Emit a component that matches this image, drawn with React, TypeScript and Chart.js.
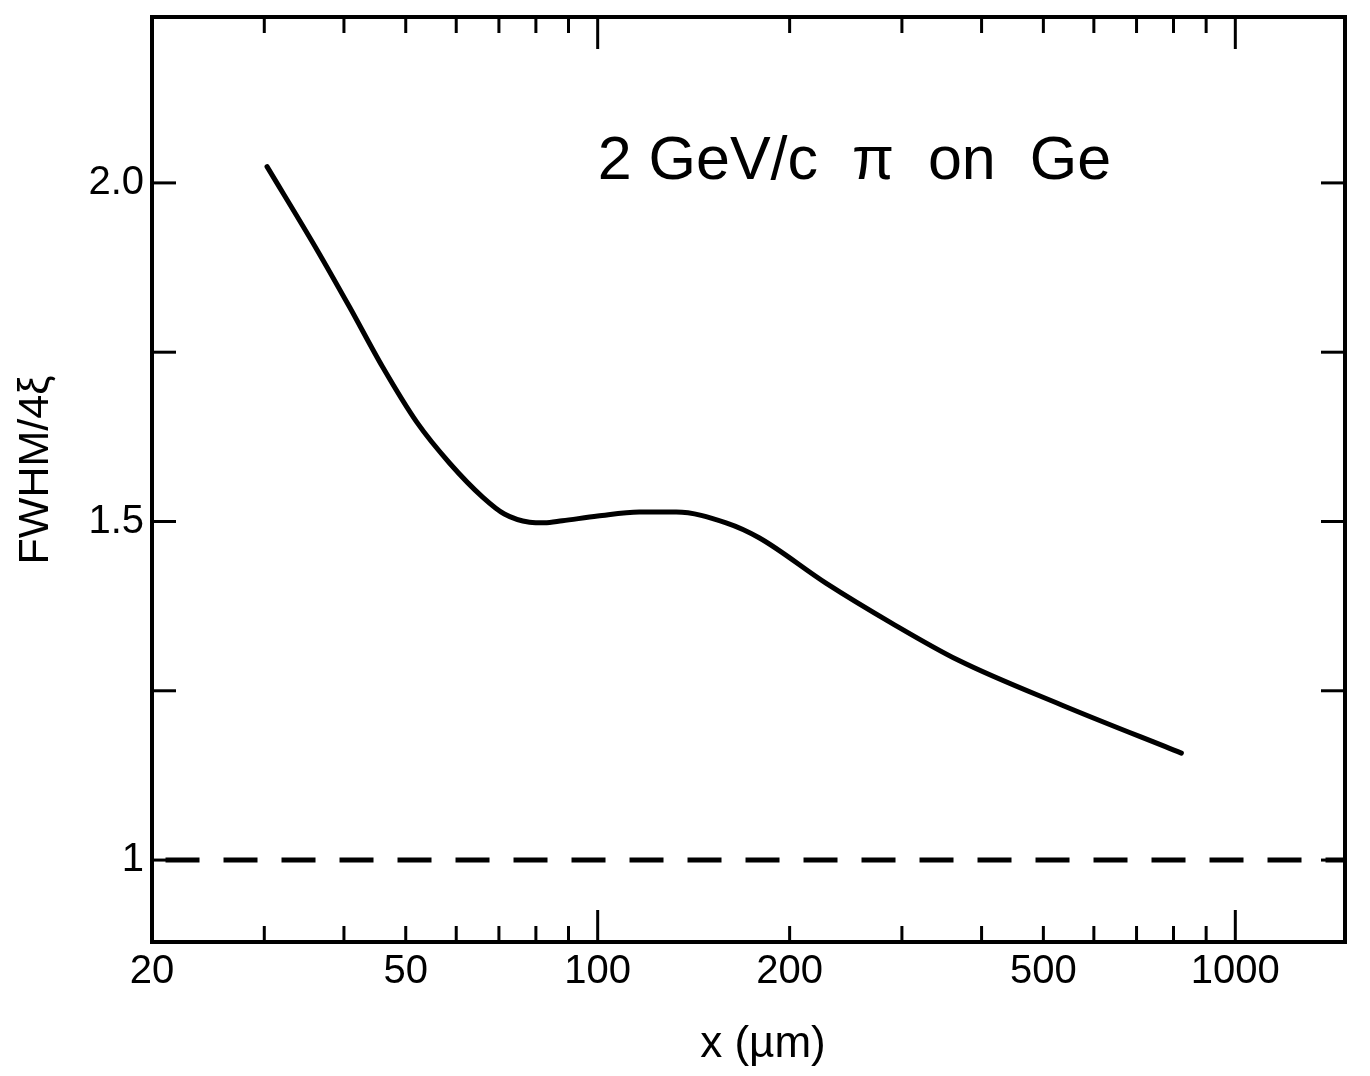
import React, { useEffect, useRef } from "react";
import { Chart, registerables } from "chart.js";

Chart.register(...registerables);

// Curve: FWHM/4ξ versus absorber thickness x (µm), 2 GeV/c π on Ge
const curveX = [30.3, 36.3, 40.8, 46.0, 52.0, 58.6, 66.0, 71.4, 78.2, 82.5, 88.0, 100, 116.2, 132.8, 159.0, 179.1, 228, 289, 368, 534, 823];
const curveY = [2.024, 1.901, 1.817, 1.728, 1.647, 1.586, 1.536, 1.511, 1.499, 1.498, 1.501, 1.508, 1.514, 1.514, 1.498, 1.476, 1.409, 1.35, 1.295, 1.229, 1.158];

// Reference (dashed) line at FWHM/4ξ = 1
const refX = [21, 1486];
const refY = [1, 1];

// Axis ranges and ticks
const xMin = 20;
const xMax = 1486;
const yMin = 0.879;
const yMax = 2.245;
const xTickLabels = [20, 50, 100, 200, 500, 1000];
const xMinorTicks = [30, 40, 50, 60, 70, 80, 90, 200, 300, 400, 500, 600, 700, 800, 900];
const xMajorTicks = [100, 1000];
const yTickLabels = [1, 1.5, 2];
const yTickMarks = [1, 1.25, 1.5, 1.75, 2];

const titleText = "2 GeV/c  π  on  Ge";
const xTitle = "x (µm)";
const yTitle = "FWHM/4ξ";

const TICK_FONT = "'Liberation Sans Narrow', 'Liberation Sans', Arial, sans-serif";
const TEXT_FONT = "'Liberation Sans', Arial, sans-serif";

const framePlugin = {
  id: "frameTicks",
  afterDraw(chart: any) {
    const { ctx, chartArea: a, scales } = chart;
    const xs = scales.x;
    const ys = scales.y;
    ctx.save();
    ctx.strokeStyle = "#000";
    ctx.fillStyle = "#000";
    ctx.lineCap = "butt";
    ctx.lineWidth = 4;
    ctx.strokeRect(a.left, a.top, a.right - a.left, a.bottom - a.top);
    const line = (x1: number, y1: number, x2: number, y2: number) => {
      ctx.beginPath();
      ctx.moveTo(x1, y1);
      ctx.lineTo(x2, y2);
      ctx.stroke();
    };
    ctx.lineWidth = 3;
    for (const v of xMinorTicks) {
      const px = xs.getPixelForValue(v);
      line(px, a.bottom, px, a.bottom - 16);
      line(px, a.top, px, a.top + 16);
    }
    for (const v of xMajorTicks) {
      const px = xs.getPixelForValue(v);
      line(px, a.bottom, px, a.bottom - 32);
      line(px, a.top, px, a.top + 32);
    }
    for (const v of yTickMarks) {
      const py = ys.getPixelForValue(v);
      line(a.left, py, a.left + 24, py);
      line(a.right, py, a.right - 24, py);
    }
    // In-plot title
    ctx.font = `61px ${TEXT_FONT}`;
    ctx.textAlign = "left";
    ctx.textBaseline = "middle";
    ctx.fillText(titleText, xs.getPixelForValue(100), ys.getPixelForValue(2.03));
    // X axis title
    ctx.font = `44px ${TEXT_FONT}`;
    ctx.textAlign = "center";
    ctx.textBaseline = "middle";
    ctx.fillText(xTitle, 763, 1045);
    // Y axis title
    ctx.translate(36, 470);
    ctx.rotate(-Math.PI / 2);
    ctx.font = `43px ${TEXT_FONT}`;
    ctx.fillText(yTitle, 0, 0);
    ctx.restore();
  },
};

export default function App() {
  const ref = useRef<HTMLCanvasElement | null>(null);
  useEffect(() => {
    document.body.style.margin = "0";
    const canvas = ref.current;
    if (!canvas) return;
    Chart.defaults.color = "#000";
    const chart = new Chart(canvas, {
      type: "line",
      data: {
        datasets: [
          {
            data: curveX.map((x, i) => ({ x, y: curveY[i] })),
            borderColor: "#000",
            borderWidth: 5,
            pointRadius: 0,
            cubicInterpolationMode: "monotone",
            fill: false,
            borderCapStyle: "round",
          },
          {
            data: refX.map((x, i) => ({ x, y: refY[i] })),
            borderColor: "#000",
            borderWidth: 5,
            pointRadius: 0,
            borderDash: [34, 24],
            fill: false,
          },
        ],
      },
      options: {
        animation: false,
        responsive: false,
        events: [],
        layout: { padding: { left: 0, right: 25, top: 17, bottom: 0 } },
        plugins: { legend: { display: false }, tooltip: { enabled: false }, title: { display: false } },
        scales: {
          x: {
            type: "logarithmic",
            min: xMin,
            max: xMax,
            afterBuildTicks: (s: any) => {
              s.ticks = xTickLabels.map((v) => ({ value: v }));
            },
            afterFit: (s: any) => {
              s.height = 134;
              s.paddingLeft = 0;
              s.paddingRight = 0;
            },
            ticks: {
              autoSkip: false,
              maxRotation: 0,
              padding: 6,
              color: "#000",
              font: { family: TICK_FONT, size: 40 },
              callback: (v: any) => String(v),
            },
            grid: { display: false, drawTicks: false },
            border: { display: false },
          },
          y: {
            type: "linear",
            min: yMin,
            max: yMax,
            afterBuildTicks: (s: any) => {
              s.ticks = yTickLabels.map((v) => ({ value: v }));
            },
            afterFit: (s: any) => {
              s.width = 152;
              s.paddingTop = 0;
              s.paddingBottom = 0;
            },
            ticks: {
              autoSkip: false,
              padding: 8,
              color: "#000",
              font: { family: TICK_FONT, size: 40 },
              callback: (v: any) => (v === 1 ? "1" : Number(v).toFixed(1)),
            },
            grid: { display: false, drawTicks: false },
            border: { display: false },
          },
        },
      },
      plugins: [framePlugin],
    } as any);
    return () => chart.destroy();
  }, []);
  return (
    <div style={{ width: 1370, height: 1076, background: "#fff" }}>
      <canvas ref={ref} width={1370} height={1076} style={{ display: "block" }} />
    </div>
  );
}
